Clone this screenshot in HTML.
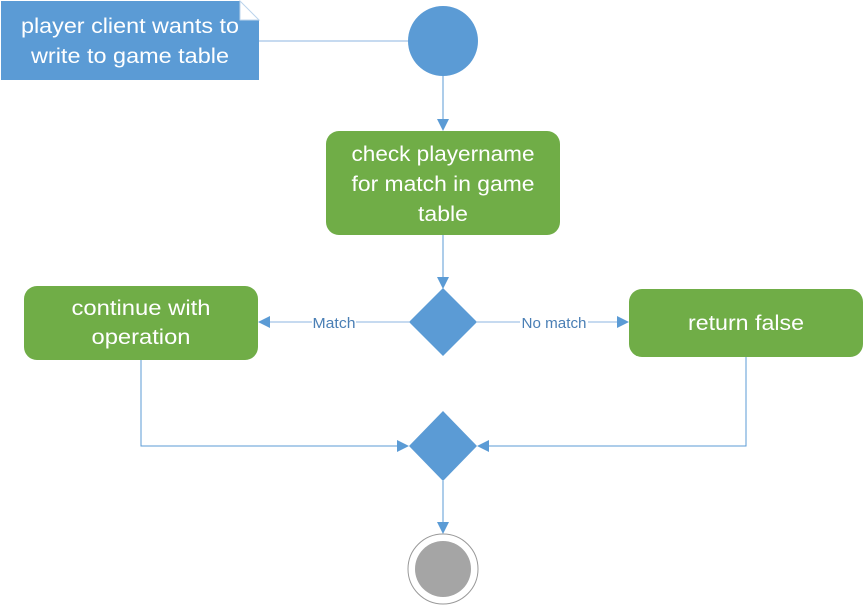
<!DOCTYPE html>
<html><head><style>body{margin:0;background:#fff}</style></head><body>
<svg width="866" height="605" xmlns="http://www.w3.org/2000/svg" font-family="Liberation Sans, sans-serif">
<defs><marker id="a" markerWidth="12" markerHeight="12" refX="11" refY="6" orient="auto" markerUnits="userSpaceOnUse"><path d="M0,0 L12,6 L0,12 z" fill="#5b9bd5"/></marker></defs>
<g stroke="#5b9bd5" stroke-width="1" fill="none">
<line x1="259" y1="41" x2="409" y2="41" stroke="#8db6e0"/>
<line x1="443" y1="76" x2="443" y2="130" marker-end="url(#a)"/>
<line x1="443" y1="235" x2="443" y2="288" marker-end="url(#a)"/>
<line x1="409" y1="322" x2="259" y2="322" marker-end="url(#a)" stroke="#8db6e0"/>
<line x1="477" y1="322" x2="628" y2="322" marker-end="url(#a)" stroke="#8db6e0"/>
<polyline points="141,360 141,446 408,446" marker-end="url(#a)"/>
<polyline points="746,357 746,446 478,446" marker-end="url(#a)"/>
<line x1="443" y1="481" x2="443" y2="533" marker-end="url(#a)"/>
</g>
<path d="M1,1 H240 L259,20 V80 H1 Z" fill="#5b9bd5"/>
<path d="M240,1 L259,20 H240 Z" fill="#fff" stroke="#bcd4ec" stroke-width="1"/>
<circle cx="443" cy="41" r="35" fill="#5b9bd5"/>
<rect x="326" y="131" width="234" height="104" rx="13" fill="#70ad47"/>
<rect x="24" y="286" width="234" height="74" rx="13" fill="#70ad47"/>
<rect x="629" y="289" width="234" height="68" rx="13" fill="#70ad47"/>
<polygon points="443,288 477,322 443,356 409,322" fill="#5b9bd5"/>
<polygon points="443,411 477,446 443,481 409,446" fill="#5b9bd5"/>
<circle cx="443" cy="569" r="35" fill="#fff" stroke="#999" stroke-width="1"/>
<circle cx="443" cy="569" r="28" fill="#a5a5a5"/>
<rect x="312" y="314" width="44" height="16" fill="#fff"/>
<rect x="520" y="314" width="68" height="16" fill="#fff"/>
<g fill="#fff" font-size="21" text-anchor="middle">
<text x="130" y="33" textLength="218" lengthAdjust="spacingAndGlyphs">player client wants to</text>
<text x="130" y="63" textLength="198" lengthAdjust="spacingAndGlyphs">write to game table</text>
<text x="443" y="161" textLength="183" lengthAdjust="spacingAndGlyphs">check playername</text>
<text x="443" y="191" textLength="183" lengthAdjust="spacingAndGlyphs">for match in game</text>
<text x="443" y="221" textLength="50" lengthAdjust="spacingAndGlyphs">table</text>
<text x="141" y="315" textLength="139" lengthAdjust="spacingAndGlyphs">continue with</text>
<text x="141" y="344" textLength="99" lengthAdjust="spacingAndGlyphs">operation</text>
<text x="746" y="330" textLength="116" lengthAdjust="spacingAndGlyphs">return false</text>
</g>
<g fill="#4a7fb5" font-size="15" text-anchor="middle">
<text x="334" y="328" textLength="43" lengthAdjust="spacingAndGlyphs">Match</text>
<text x="554" y="328" textLength="65" lengthAdjust="spacingAndGlyphs">No match</text>
</g>
</svg>
</body></html>
